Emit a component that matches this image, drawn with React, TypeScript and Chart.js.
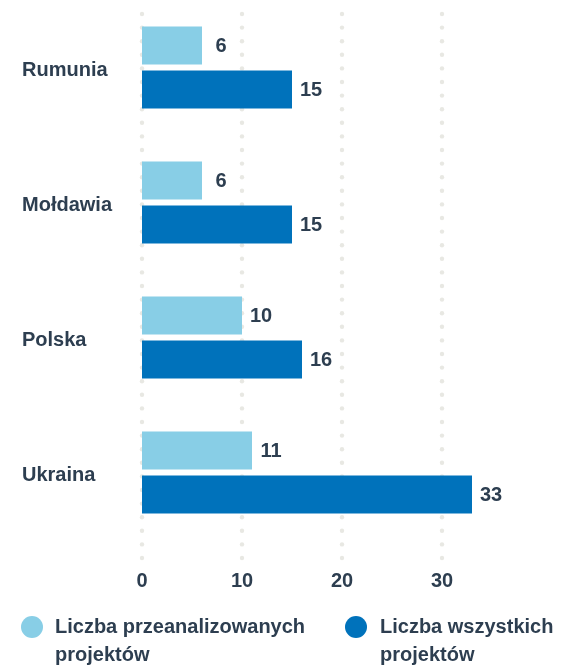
import React, { useEffect, useRef } from "react";
import { Chart, registerables } from "chart.js";

Chart.register(...registerables);

const categories = ["Rumunia", "Mołdawia", "Polska", "Ukraina"];
const analyzed = [6, 6, 10, 11];
const allProjects = [15, 15, 16, 33];
const seriesNames = ["Liczba przeanalizowanych projektów", "Liczba wszystkich projektów"];
const tickValues = [0, 10, 20, 30];

const LIGHT = "#88cee6";
const DARK = "#0072bb";
const TEXT = "#2d3e50";
const FONT = "'Liberation Sans', Arial, Helvetica, sans-serif";

const dotGrid = {
  id: "dotGrid",
  beforeDatasetsDraw(chart: any) {
    const { ctx, chartArea, scales } = chart;
    const xs = scales.x;
    const top = chartArea.top + 14;
    const bottom = chartArea.bottom + 20;
    const step = 13.6;
    ctx.save();
    ctx.fillStyle = "#e8e8e3";
    for (const v of tickValues) {
      const x = xs.getPixelForValue(v);
      for (let y = top; y <= bottom + 0.5; y += step) {
        ctx.beginPath();
        ctx.arc(x, y, 2.2, 0, Math.PI * 2);
        ctx.fill();
      }
    }
    ctx.restore();
  },
};

const valueLabels = {
  id: "valueLabels",
  afterDatasetsDraw(chart: any) {
    const { ctx } = chart;
    ctx.save();
    ctx.font = `bold 20px ${FONT}`;
    ctx.fillStyle = TEXT;
    ctx.textAlign = "center";
    ctx.textBaseline = "middle";
    chart.data.datasets.forEach((ds: any, i: number) => {
      const meta = chart.getDatasetMeta(i);
      meta.data.forEach((el: any, j: number) => {
        ctx.fillText(String(ds.data[j]), el.x + 19, el.y + 1);
      });
    });
    ctx.restore();
  },
};

export default function App() {
  const ref = useRef<HTMLCanvasElement | null>(null);

  useEffect(() => {
    if (!ref.current) return;
    const chart = new Chart(ref.current, {
      type: "bar",
      data: {
        labels: categories,
        datasets: [
          {
            label: seriesNames[0],
            data: analyzed,
            backgroundColor: LIGHT,
            categoryPercentage: 0.652,
            barPercentage: 0.8636,
          },
          {
            label: seriesNames[1],
            data: allProjects,
            backgroundColor: DARK,
            categoryPercentage: 0.652,
            barPercentage: 0.8636,
          },
        ],
      },
      options: {
        indexAxis: "y",
        animation: false,
        responsive: false,
        maintainAspectRatio: false,
        layout: { padding: { left: 22, right: 22, top: 0, bottom: 0 } },
        plugins: {
          legend: { display: false },
          tooltip: { enabled: false },
        },
        scales: {
          x: {
            min: 0,
            max: 40,
            grid: { display: false, drawTicks: false },
            border: { display: false },
            afterBuildTicks: (axis: any) => {
              axis.ticks = tickValues.map((v) => ({ value: v }));
            },
            ticks: {
              padding: 29,
              color: TEXT,
              font: { family: FONT, size: 20, weight: "bold" },
            },
          },
          y: {
            grid: { display: false, drawTicks: false },
            border: { display: false },
            afterFit: (scale: any) => {
              scale.width = 120;
              scale.paddingTop = 0;
              scale.paddingBottom = 0;
            },
            ticks: {
              crossAlign: "far",
              padding: 0,
              labelOffset: 3,
              color: TEXT,
              font: { family: FONT, size: 20, weight: "bold" },
            },
          },
        },
      },
      plugins: [dotGrid, valueLabels],
    } as any);
    return () => chart.destroy();
  }, []);

  const legendText: React.CSSProperties = {
    position: "absolute",
    top: 612,
    font: `bold 20px/28px ${FONT}`,
    color: TEXT,
  };
  const dot = (color: string, cx: number): React.CSSProperties => ({
    position: "absolute",
    left: cx - 11,
    top: 616,
    width: 22,
    height: 22,
    borderRadius: "50%",
    background: color,
  });

  return (
    <div style={{ position: "fixed", left: 0, top: 0, width: 564, height: 666, background: "#fff" }}>
      <canvas ref={ref} width={564} height={622} style={{ position: "absolute", left: 0, top: 0 }} />
      <div style={dot(LIGHT, 32)} />
      <div style={{ ...legendText, left: 55, width: 280 }}>
        Liczba przeanalizowanych
        <br />
        projektów
      </div>
      <div style={dot(DARK, 356)} />
      <div style={{ ...legendText, left: 380, width: 184 }}>
        Liczba wszystkich
        <br />
        projektów
      </div>
    </div>
  );
}
